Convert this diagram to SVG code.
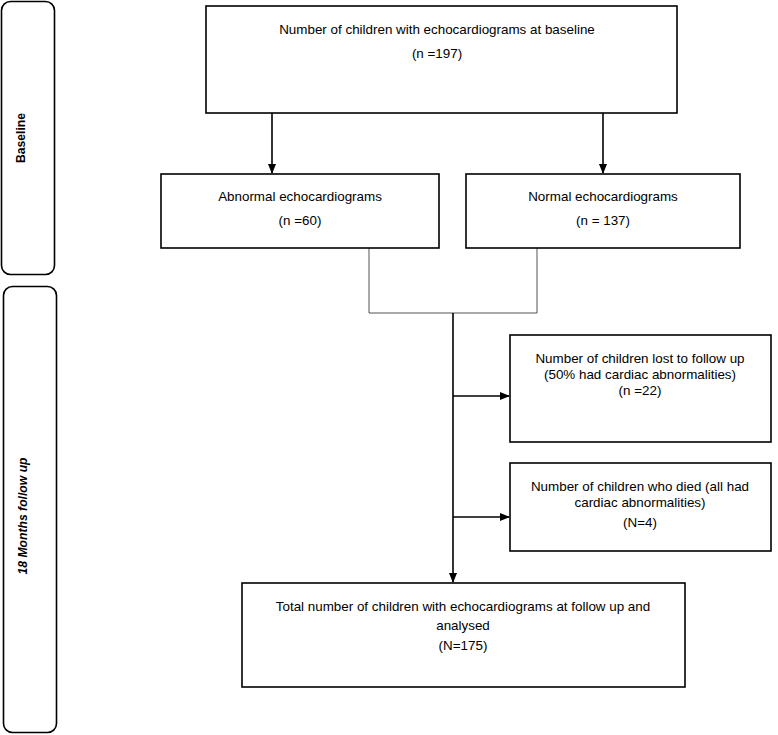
<svg xmlns="http://www.w3.org/2000/svg" width="778" height="735" viewBox="0 0 778 735">
<defs>
<marker id="ah" markerWidth="10" markerHeight="10" refX="9" refY="5" orient="auto" markerUnits="userSpaceOnUse">
<path d="M0,1 L10,5 L0,9 Z" fill="#000"/>
</marker>
</defs>
<style>
.box{fill:#fff;stroke:#000;stroke-width:1.6}
.phase{fill:#fff;stroke:#000;stroke-width:1.6}
.t{font-family:"Liberation Sans",Arial,sans-serif;font-size:13.4px;fill:#000;text-anchor:middle}
.pt{font-family:"Liberation Sans",Arial,sans-serif;font-size:12.2px;font-weight:bold;fill:#000;text-anchor:middle}
.arr{stroke:#000;stroke-width:1.6;fill:none;marker-end:url(#ah)}
.thin{stroke:#555;stroke-width:1;fill:none}
</style>
<rect width="778" height="735" fill="#fff"/>
<g id="phase-baseline">
<rect class="phase" x="1.5" y="1.5" width="53" height="273" rx="9"/>
<text class="pt" transform="translate(25,138) rotate(-90)">Baseline</text>
</g>
<g id="phase-followup">
<rect class="phase" x="3.5" y="286.5" width="53" height="446" rx="9"/>
<text class="pt" font-style="italic" transform="translate(27,516) rotate(-90)">18 Months follow up</text>
</g>
<g id="connectors">
<line class="arr" x1="272" y1="113" x2="272" y2="173"/>
<line class="arr" x1="603" y1="113" x2="603" y2="173"/>
<polyline class="thin" points="369,248 369,313 537,313 537,248"/>
<line class="arr" x1="453" y1="313" x2="453" y2="582"/>
<line class="arr" x1="453" y1="396" x2="509" y2="396"/>
<line class="arr" x1="453" y1="517" x2="509" y2="517"/>
</g>
<g id="n-baseline">
<rect class="box" x="206" y="6" width="471" height="107"/>
<text class="t" x="437" y="34">Number of children with echocardiograms at baseline</text>
<text class="t" x="437" y="58">(n =197)</text>
</g>
<g id="n-abnormal">
<rect class="box" x="161" y="174" width="278" height="74"/>
<text class="t" x="300" y="201">Abnormal echocardiograms</text>
<text class="t" x="300" y="225">(n =60)</text>
</g>
<g id="n-normal">
<rect class="box" x="466" y="174" width="274" height="74"/>
<text class="t" x="603" y="201">Normal echocardiograms</text>
<text class="t" x="603" y="225">(n = 137)</text>
</g>
<g id="n-lost">
<rect class="box" x="510" y="335" width="261" height="107"/>
<text class="t" x="640" y="363">Number of children lost to follow up</text>
<text class="t" x="640" y="379">(50% had cardiac abnormalities)</text>
<text class="t" x="640" y="395">(n =22)</text>
</g>
<g id="n-died">
<rect class="box" x="510" y="463" width="261" height="88"/>
<text class="t" x="640" y="491">Number of children who died (all had</text>
<text class="t" x="640" y="507">cardiac abnormalities)</text>
<text class="t" x="640" y="527">(N=4)</text>
</g>
<g id="n-total">
<rect class="box" x="242" y="583" width="443" height="104"/>
<text class="t" x="463" y="611">Total number of children with echocardiograms at follow up and</text>
<text class="t" x="463" y="630">analysed</text>
<text class="t" x="463" y="650">(N=175)</text>
</g>
</svg>
